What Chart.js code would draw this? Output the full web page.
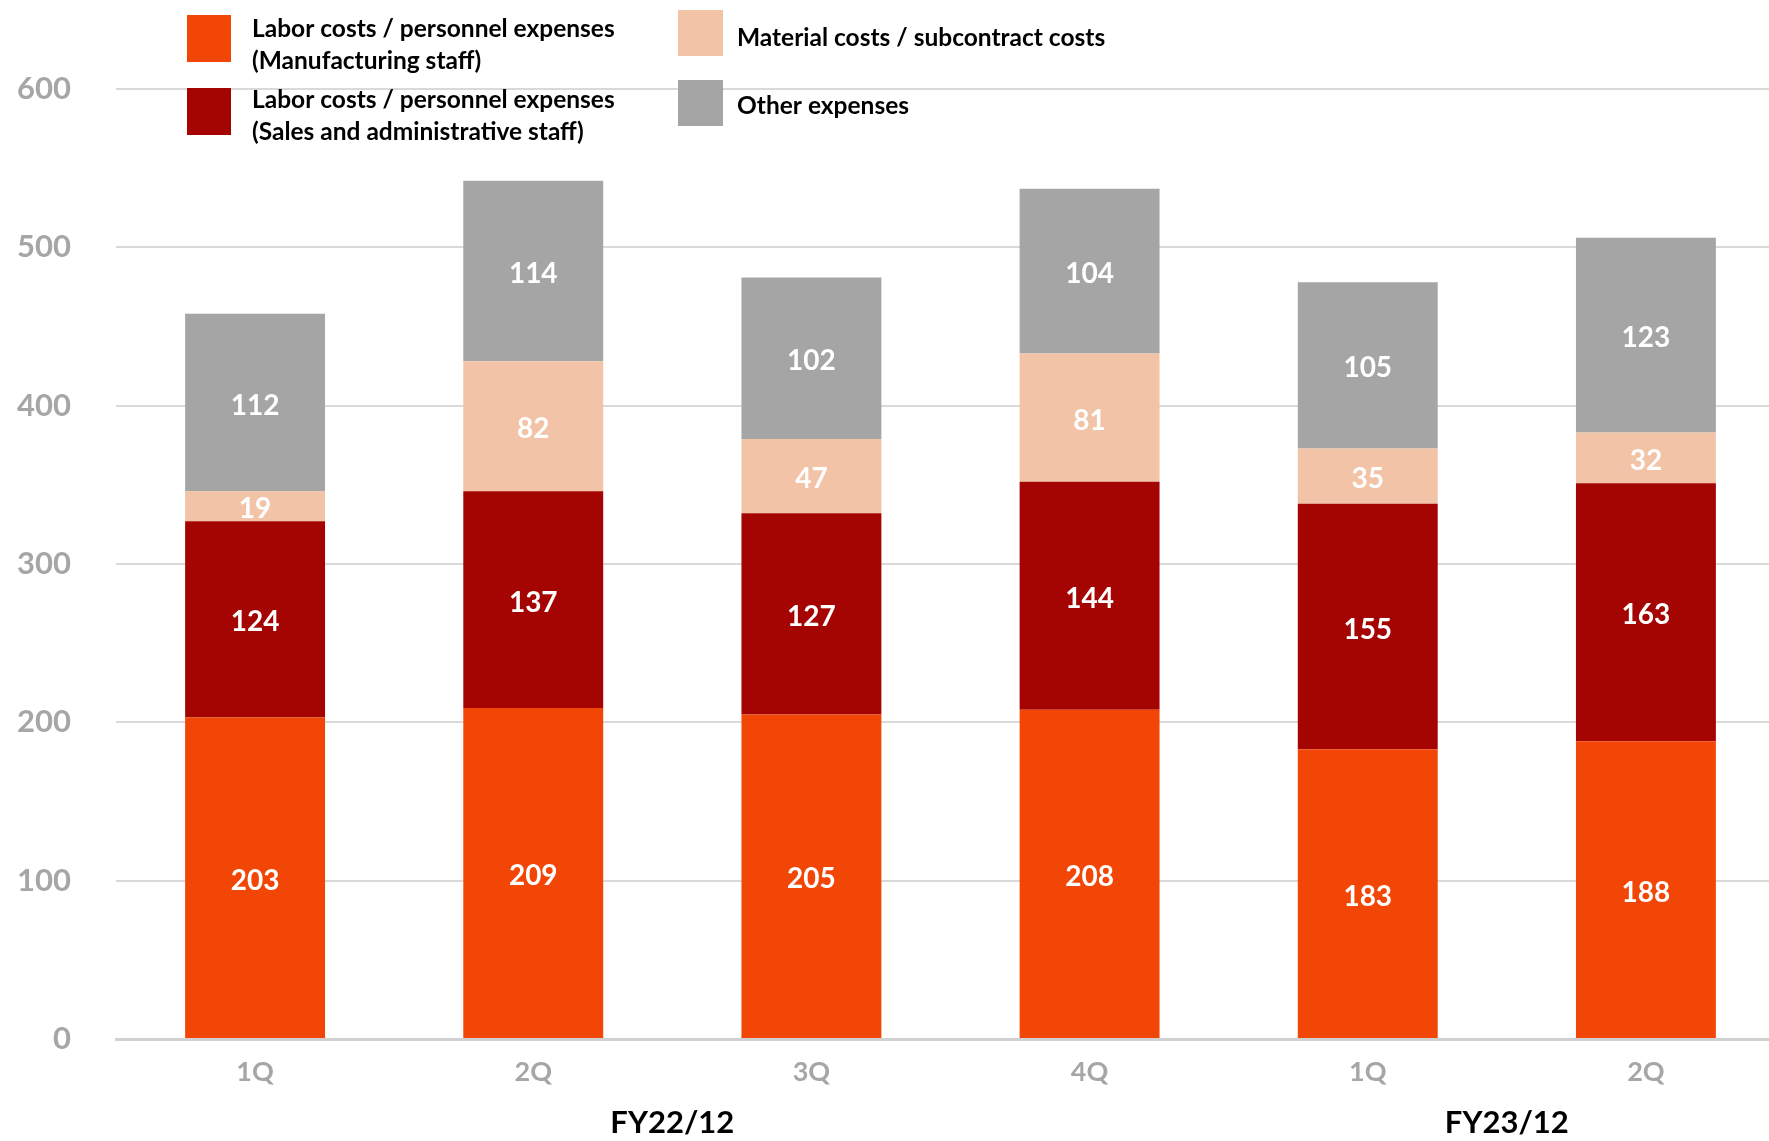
<!DOCTYPE html>
<html>
<head>
<meta charset="utf-8">
<script src="https://cdn.jsdelivr.net/npm/chart.js@4"></script>
<style>
  html, body { margin: 0; padding: 0; background: #fff; overflow: hidden; }
  #wrap { width: 1785px; height: 1141px; }
</style>
</head>
<body>
<div id="wrap"><canvas id="costs" width="1785" height="1141"></canvas></div>
<script>
const quarters = ['1Q', '2Q', '3Q', '4Q', '1Q', '2Q'];
const fiscalYears = ['FY22/12', 'FY23/12'];
const fiscalGroups = [[1, 2], [4, 5]]; // label sits between these two categories

const mfgStaff = [203, 209, 205, 208, 183, 188];
const salesAdminStaff = [124, 137, 127, 144, 155, 163];
const materialCosts = [19, 82, 47, 81, 35, 32];
const otherExpenses = [112, 114, 102, 104, 105, 123];

const yTicks = [0, 100, 200, 300, 400, 500, 600];

const FONT = 'Lato, "Open Sans", sans-serif';

const legendItems = [
    { lines: ['Labor costs / personnel expenses', '(Manufacturing staff)'], color: '#F24607', box: [187, 15, 44, 47], text: [252, 29] },
    { lines: ['Labor costs / personnel expenses', '(Sales and administrative staff)'], color: '#A50502', box: [187, 88, 44, 47], text: [252, 100] },
    { lines: ['Material costs / subcontract costs'], color: '#F2C3A7', box: [678, 10, 45, 46], text: [737, 38] },
    { lines: ['Other expenses'], color: '#A5A5A5', box: [678, 80, 45, 46], text: [737, 106] }
];

// values inside each stacked segment
const segmentLabels = {
    id: 'segmentLabels',
    afterDatasetsDraw(chart) {
        const ctx = chart.ctx;
        ctx.save();
        ctx.font = 'bold 28px ' + FONT;
        ctx.fillStyle = '#ffffff';
        ctx.textAlign = 'center';
        ctx.textBaseline = 'middle';
        chart.data.datasets.forEach((ds, i) => {
            chart.getDatasetMeta(i).data.forEach((bar, j) => {
                const p = bar.getCenterPoint();
                ctx.fillText(String(ds.data[j]), p.x, p.y + 3);
            });
        });
        ctx.restore();
    }
};

// fiscal year labels under the quarter ticks + legend in the top area
const extras = {
    id: 'extras',
    afterDraw(chart) {
        const ctx = chart.ctx;
        const x = chart.scales.x;
        ctx.save();
        ctx.font = 'bold 31px ' + FONT;
        ctx.fillStyle = '#000000';
        ctx.textAlign = 'center';
        ctx.textBaseline = 'middle';
        fiscalGroups.forEach((g, i) => {
            const cx = (x.getPixelForValue(g[0]) + x.getPixelForValue(g[1])) / 2;
            ctx.fillText(fiscalYears[i], cx, 1123);
        });

        ctx.font = 'bold 24.5px ' + FONT;
        ctx.textAlign = 'left';
        legendItems.forEach(item => {
            ctx.fillStyle = item.color;
            ctx.fillRect(item.box[0], item.box[1], item.box[2], item.box[3]);
            ctx.fillStyle = '#000000';
            item.lines.forEach((line, k) => {
                ctx.fillText(line, item.text[0], item.text[1] + k * 32);
            });
        });
        ctx.restore();
    }
};

const ctx = document.getElementById('costs');
const chart = new Chart(ctx, {
    type: 'bar',
    data: {
        labels: quarters,
        datasets: [
            { label: legendItems[0].lines.join(' '), data: mfgStaff, backgroundColor: '#F24607' },
            { label: legendItems[1].lines.join(' '), data: salesAdminStaff, backgroundColor: '#A50502' },
            { label: legendItems[2].lines.join(' '), data: materialCosts, backgroundColor: '#F2C3A7' },
            { label: legendItems[3].lines.join(' '), data: otherExpenses, backgroundColor: '#A5A5A5' }
        ]
    },
    options: {
        responsive: false,
        animation: false,
        layout: { padding: { top: 89, right: 0, left: 0, bottom: 0 } },
        datasets: {
            bar: { barPercentage: 1, categoryPercentage: 0.503, borderWidth: 0 }
        },
        plugins: {
            legend: { display: false },
            tooltip: { enabled: false }
        },
        scales: {
            x: {
                stacked: true,
                grid: { display: false },
                border: { display: true, color: '#d0d0d0', width: 3 },
                ticks: { color: '#a6a6a6', font: { family: FONT, size: 27, weight: 'bold' }, padding: 9 },
                afterFit(scale) { scale.height = 102; }
            },
            y: {
                stacked: true,
                min: 0,
                max: 600,
                afterBuildTicks(scale) { scale.ticks = yTicks.map(v => ({ value: v })); },
                grid: { color: '#d9d9d9', lineWidth: 2, drawTicks: false },
                border: { display: false },
                ticks: { color: '#a6a6a6', font: { family: FONT, size: 31, weight: 'bold' }, padding: 45 },
                afterFit(scale) { scale.width = 116; }
            }
        }
    },
    plugins: [segmentLabels, extras]
});
</script>
</body>
</html>
